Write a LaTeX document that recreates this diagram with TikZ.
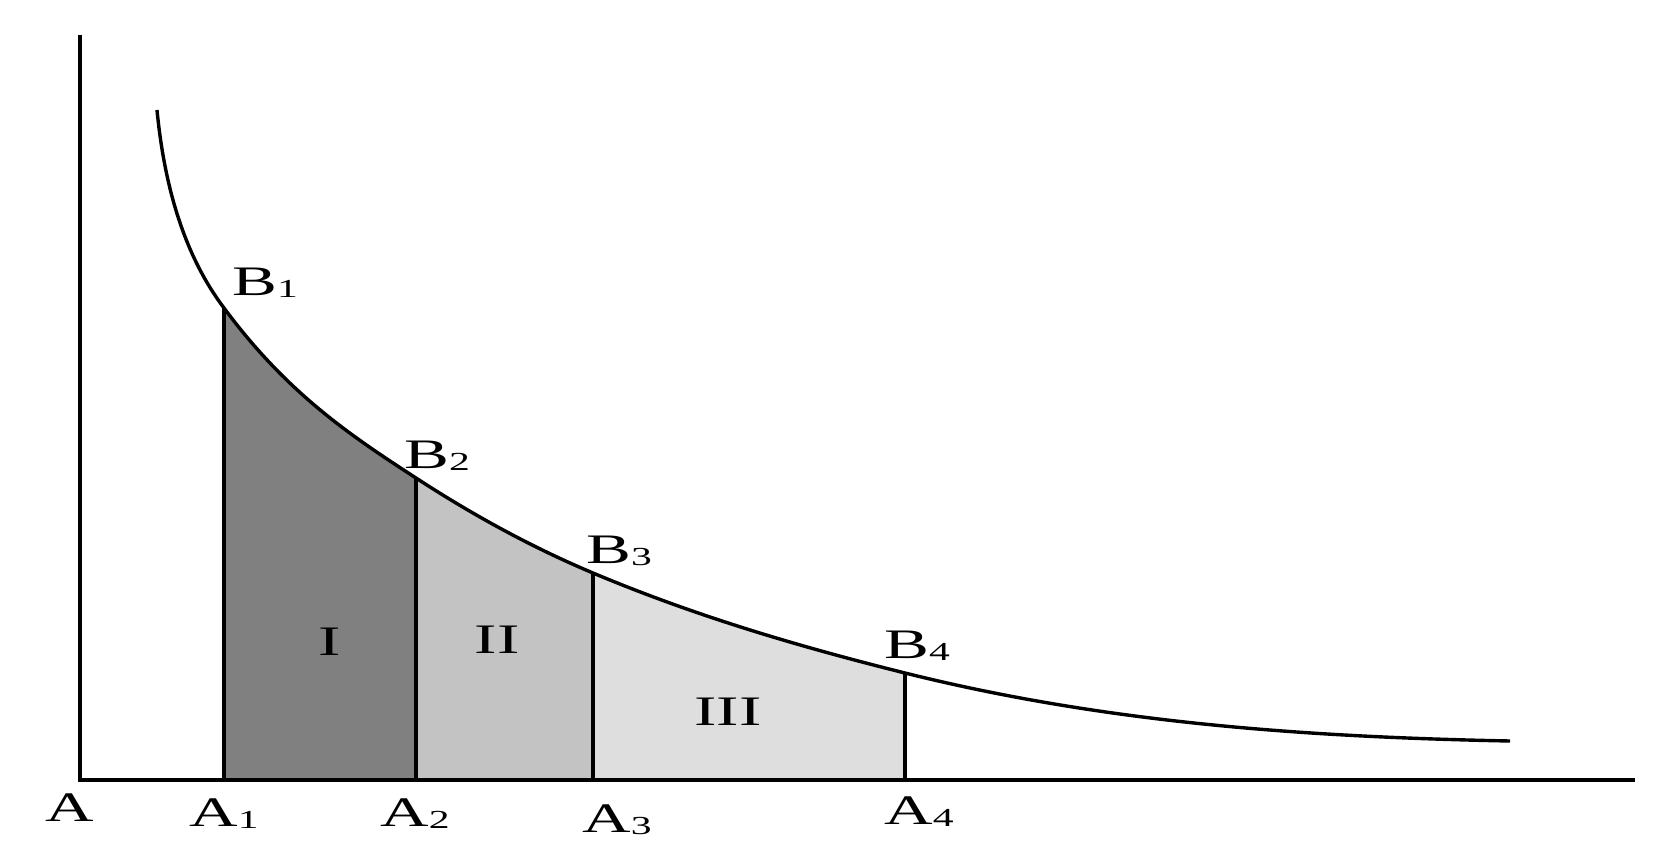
\documentclass[tikz,border=0pt]{standalone}
\usepackage{fontspec}
\setmainfont{Liberation Serif}
\usepackage{graphicx}
\newcommand\mylbl[2]{\scalebox{1.6}[1]{#1\raisebox{-1pt}{\fontsize{13}{13}\selectfont #2}}}
\definecolor{fillI}{RGB}{128,128,128}
\definecolor{fillII}{RGB}{195,195,195}
\definecolor{fillIII}{RGB}{222,222,222}
\tikzset{
  axisline/.style={line width=1.6pt, line join=miter},
  curveline/.style={line width=1.7pt},
  ordline/.style={line width=2pt},
  lab/.style={inner sep=0pt, anchor=base west, font=\fontsize{21}{21}\selectfont},
  roman/.style={inner sep=0pt, anchor=base, font=\fontsize{21}{21}\selectfont},
}
\begin{document}
\begin{tikzpicture}[x=0.5pt,y=-0.5pt]
\useasboundingbox (0,0) rectangle (1664,856);
% named coordinates
\coordinate (O) at (80,780);
\coordinate (Ytop) at (80,35);
\coordinate (Xend) at (1635,780);
\coordinate (C0) at (157,110);
\coordinate (CE) at (1510,741);
\coordinate (A1) at (224,780); \coordinate (B1) at (224,308);
\coordinate (A2) at (416,780); \coordinate (B2) at (416,478);
\coordinate (A3) at (593,780); \coordinate (B3) at (593,573);
\coordinate (A4) at (905,780); \coordinate (B4) at (905,673);
\def\curvepath{(C0) .. controls (165,193) and (187,259) .. (B1)
  .. controls (288,394.4) and (352,436.4) .. (B2)
  .. controls (475,516.4) and (534,548.2) .. (B3)
  .. controls (697,616.7) and (801,647) .. (B4)
  .. controls (1107,723.4) and (1308,737) .. (CE)}
% shaded regions under the curve
\begin{scope}
  \clip \curvepath -- (1510,780) -- (157,780) -- cycle;
  \fill[fillI] (A1) rectangle (416,0);
  \fill[fillII] (A2) rectangle (593,0);
  \fill[fillIII] (A3) rectangle (905,0);
\end{scope}
% ordinates
\draw[ordline] (A1) -- (B1);
\draw[ordline] (A2) -- (B2);
\draw[ordline] (A3) -- (B3);
\draw[ordline] (A4) -- (B4);
% axes
\draw[axisline] (Ytop) -- (O) -- (Xend);
% curve
\draw[curveline] \curvepath;
% labels
\node[lab] (LA) at (45,821) {\scalebox{1.6}[1]{A}};
\node[lab] (LA1) at (189,826) {\mylbl{A}{1}};
\node[lab] (LA2) at (380,826) {\mylbl{A}{2}};
\node[lab] (LA3) at (582,832) {\mylbl{A}{3}};
\node[lab] (LA4) at (884,824) {\mylbl{A}{4}};
\node[lab] (LB1) at (232,295) {\mylbl{B}{1}};
\node[lab] (LB2) at (404,468) {\mylbl{B}{2}};
\node[lab] (LB3) at (586,563) {\mylbl{B}{3}};
\node[lab] (LB4) at (884,658) {\mylbl{B}{4}};
\node[roman] (RI) at (330,655) {\scalebox{1.6}[1]{I}};
\node[roman] (RII) at (497,653) {\scalebox{1.6}[1]{II}};
\node[roman] (RIII) at (728,725) {\scalebox{1.6}[1]{III}};
\end{tikzpicture}
\end{document}
